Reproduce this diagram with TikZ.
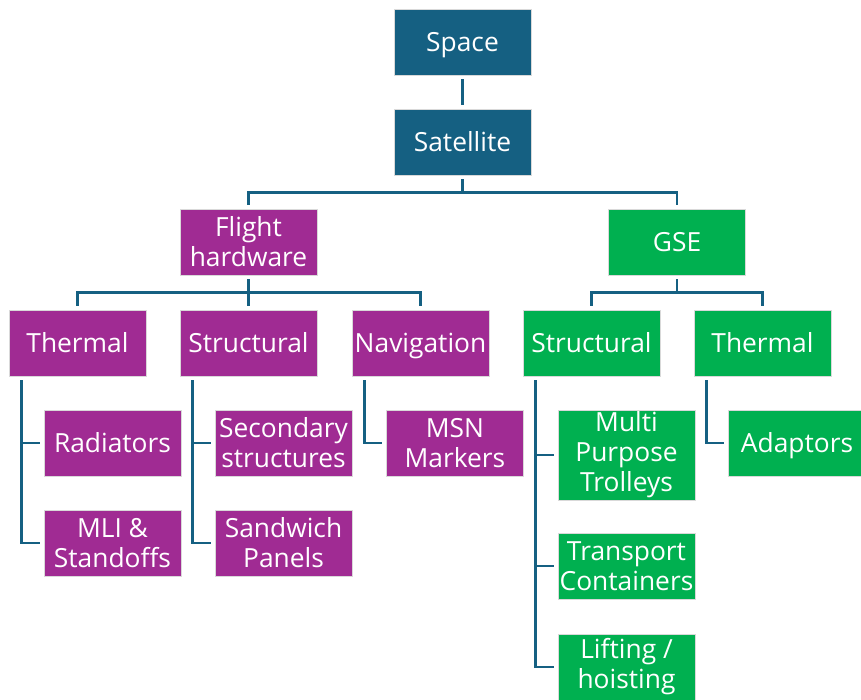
\documentclass[tikz,border=0pt]{standalone}
\usepackage{fontspec}
\setmainfont{Open Sans}
\usetikzlibrary{calc}
\definecolor{topblue}{HTML}{156082}
\definecolor{hwpurple}{HTML}{A02B93}
\definecolor{gsegreen}{HTML}{00B050}
\tikzset{
  unit/.style={draw=white!85!black,line width=0.4pt,text=white,align=center,minimum width=2.74cm,minimum height=1.32cm,inner sep=1pt,font=\fontsize{15}{17}\selectfont},
  oneline/.style={text height=10.7pt,text depth=0pt},
  top/.style={unit,fill=topblue,oneline},
  hardware/.style={unit,fill=hwpurple},
  ground/.style={unit,fill=gsegreen},
  link/.style={draw=topblue,line width=1.6pt,shorten <=0.08cm,shorten >=0.08cm}
}
\begin{document}
\begin{tikzpicture}[x=0.02cm,y=-0.02cm]
      \useasboundingbox (0,0) rectangle (861,699);
      \node[top] (space) at (462.5,42) {Space};
      \node[top] (satellite) at (462.5,142) {Satellite};
      \node[hardware] (flight) at (248.5,242) {Flight\\hardware};
      \node[ground,oneline] (gse) at (677,242) {GSE};

      \node[hardware,oneline] (thermal) at (77.5,343) {Thermal};
      \node[hardware,oneline] (structural) at (248.5,343) {Structural};
      \node[hardware,oneline] (navigation) at (420.5,343) {Navigation};
      \node[ground,oneline] (gsestructural) at (591.5,343) {Structural};
      \node[ground,oneline] (gsethermal) at (762.5,343) {Thermal};

      \node[hardware,oneline] (radiators) at (112.5,443) {Radiators};
      \node[hardware] (mli) at (112.5,543) {MLI \&\\Standoffs};
      \node[hardware] (secondary) at (283.5,443) {Secondary\\structures};
      \node[hardware] (sandwich) at (283.5,543) {Sandwich\\Panels};
      \node[hardware] (msn) at (455,443) {MSN\\Markers};
      \node[ground,minimum height=1.8cm] (trolleys) at (626.5,455) {Multi\\Purpose\\Trolleys};
      \node[ground] (containers) at (626.5,566) {Transport\\Containers};
      \node[ground] (lifting) at (626.5,667) {Lifting /\\hoisting};
      \node[ground,oneline] (adaptors) at (797,443) {Adaptors};

      \draw[link] (space) -- (satellite);
      \draw[link] (satellite.south) -- ++(0,17) -| (flight.north);
      \draw[link] (satellite.south) -- ++(0,17) -| (gse.north);
      \draw[link] (flight.south) -- ++(0,17) -| (thermal.north);
      \draw[link] (flight.south) -- ++(0,17) -| (structural.north);
      \draw[link] (flight.south) -- ++(0,17) -| (navigation.north);
      \draw[link] (gse.south) -- ++(0,17) -| (gsestructural.north);
      \draw[link] (gse.south) -- ++(0,17) -| (gsethermal.north);

      \draw[link] ($(thermal.south west)+(13,0)$) |- (radiators.west);
      \draw[link] ($(thermal.south west)+(13,0)$) |- (mli.west);
      \draw[link] ($(structural.south west)+(13,0)$) |- (secondary.west);
      \draw[link] ($(structural.south west)+(13,0)$) |- (sandwich.west);
      \draw[link] ($(navigation.south west)+(13,0)$) |- (msn.west);
      \draw[link] ($(gsestructural.south west)+(13,0)$) |- (trolleys.west);
      \draw[link] ($(gsestructural.south west)+(13,0)$) |- (containers.west);
      \draw[link] ($(gsestructural.south west)+(13,0)$) |- (lifting.west);
      \draw[link] ($(gsethermal.south west)+(13,0)$) |- (adaptors.west);
    \end{tikzpicture}
\end{document}
